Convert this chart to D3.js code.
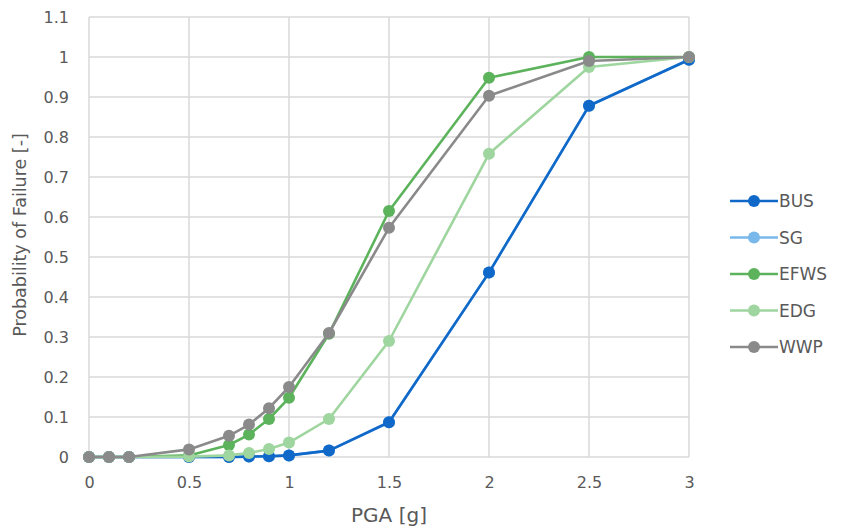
<!DOCTYPE html>
<html><head><meta charset="utf-8">
<script src="https://cdn.jsdelivr.net/npm/d3@7"></script>
<style>body{margin:0;background:#fff;}svg{display:block;font-family:"DejaVu Sans",sans-serif;}</style>
</head><body><svg id="c" width="841" height="529"></svg>
<script>
const pga = [0, 0.1, 0.2, 0.5, 0.7, 0.8, 0.9, 1.0, 1.2, 1.5, 2.0, 2.5, 3.0];
const BUS  = [0, 0, 0, 0, 0.000, 0.001, 0.002, 0.004, 0.016, 0.087, 0.461, 0.878, 0.993];
const SG   = [0, 0, 0, 0, 0.000, 0.001, 0.002, 0.004, 0.016, 0.087, 0.461, 0.878, 0.993];
const EFWS = [0, 0, 0, 0.004, 0.030, 0.056, 0.095, 0.148, 0.308, 0.615, 0.948, 1.0, 1.0];
const EDG  = [0, 0, 0, 0.001, 0.004, 0.010, 0.020, 0.036, 0.095, 0.290, 0.758, 0.975, 1.0];
const WWP  = [0, 0, 0, 0.019, 0.053, 0.081, 0.122, 0.175, 0.310, 0.573, 0.903, 0.990, 1.0];
const seriesNames = ["BUS", "SG", "EFWS", "EDG", "WWP"];
const seriesValues = [BUS, SG, EFWS, EDG, WWP];
const colors = ["#1068c8", "#78b8ea", "#5cb35c", "#9fd59f", "#8a8a8a"];
const xTicks = [0, 0.5, 1, 1.5, 2, 2.5, 3];
const yTicks = [0, 0.1, 0.2, 0.3, 0.4, 0.5, 0.6, 0.7, 0.8, 0.9, 1, 1.1];

const svg = d3.select("#c");
const x = d3.scaleLinear().domain([0, 3]).range([89, 689]);
const y = d3.scaleLinear().domain([0, 1.1]).range([457, 17]);
const txt = "#595959";
const font = "DejaVu Sans, sans-serif";

// grid
svg.append("g").selectAll("line").data(yTicks).join("line")
  .attr("x1", x(0)).attr("x2", x(3)).attr("y1", d => y(d)).attr("y2", d => y(d))
  .attr("stroke", "#d9d9d9").attr("stroke-width", 1.5);
svg.append("g").selectAll("line").data(xTicks).join("line")
  .attr("x1", d => x(d)).attr("x2", d => x(d)).attr("y1", y(0)).attr("y2", y(1.1))
  .attr("stroke", "#d9d9d9").attr("stroke-width", 1.5);

// axes labels
const yAxis = d3.axisLeft(y).tickValues(yTicks).tickSize(0).tickPadding(20).tickFormat(d => d3.format("~g")(d));
const gy = svg.append("g").attr("transform", `translate(${x(0)},0)`).call(yAxis);
gy.select(".domain").remove();
gy.selectAll("text").attr("fill", txt).attr("font-size", 16).attr("font-family", font);

const xAxis = d3.axisBottom(x).tickValues(xTicks).tickSize(0).tickPadding(20).tickFormat(d => d3.format("~g")(d));
const gx = svg.append("g").attr("transform", `translate(0,${y(0)})`).call(xAxis);
gx.select(".domain").remove();
gx.selectAll("text").attr("fill", txt).attr("font-size", 16).attr("font-family", font);

svg.append("text").attr("x", (x(0) + x(3)) / 2).attr("y", 522).attr("text-anchor", "middle")
  .attr("fill", txt).attr("font-size", 20).text("PGA [g]");
svg.append("text").attr("transform", `translate(26,${y(0.555)}) rotate(-90)`).attr("text-anchor", "middle")
  .attr("fill", txt).attr("font-size", 17.5).text("Probability of Failure [-]");

// series (SG drawn beneath BUS)
const order = [1, 0, 2, 3, 4];
const line = d3.line().x((d, i) => x(pga[i])).y(d => y(d));
order.forEach(k => {
  const g = svg.append("g");
  g.append("path").datum(seriesValues[k]).attr("d", line).attr("fill", "none")
    .attr("stroke", colors[k]).attr("stroke-width", 2.6).attr("stroke-linejoin", "round");
  g.selectAll("circle").data(seriesValues[k]).join("circle")
    .attr("cx", (d, i) => x(pga[i])).attr("cy", d => y(d)).attr("r", 6).attr("fill", colors[k]);
});

// legend
const lg = svg.append("g");
seriesNames.forEach((n, i) => {
  const ly = 201 + i * 36.5;
  lg.append("line").attr("x1", 730).attr("x2", 778).attr("y1", ly).attr("y2", ly)
    .attr("stroke", colors[i]).attr("stroke-width", 2.6);
  lg.append("circle").attr("cx", 754).attr("cy", ly).attr("r", 6).attr("fill", colors[i]);
  lg.append("text").attr("x", 779).attr("y", ly + 6).attr("fill", txt).attr("font-size", 17).text(n);
});
</script></body></html>
